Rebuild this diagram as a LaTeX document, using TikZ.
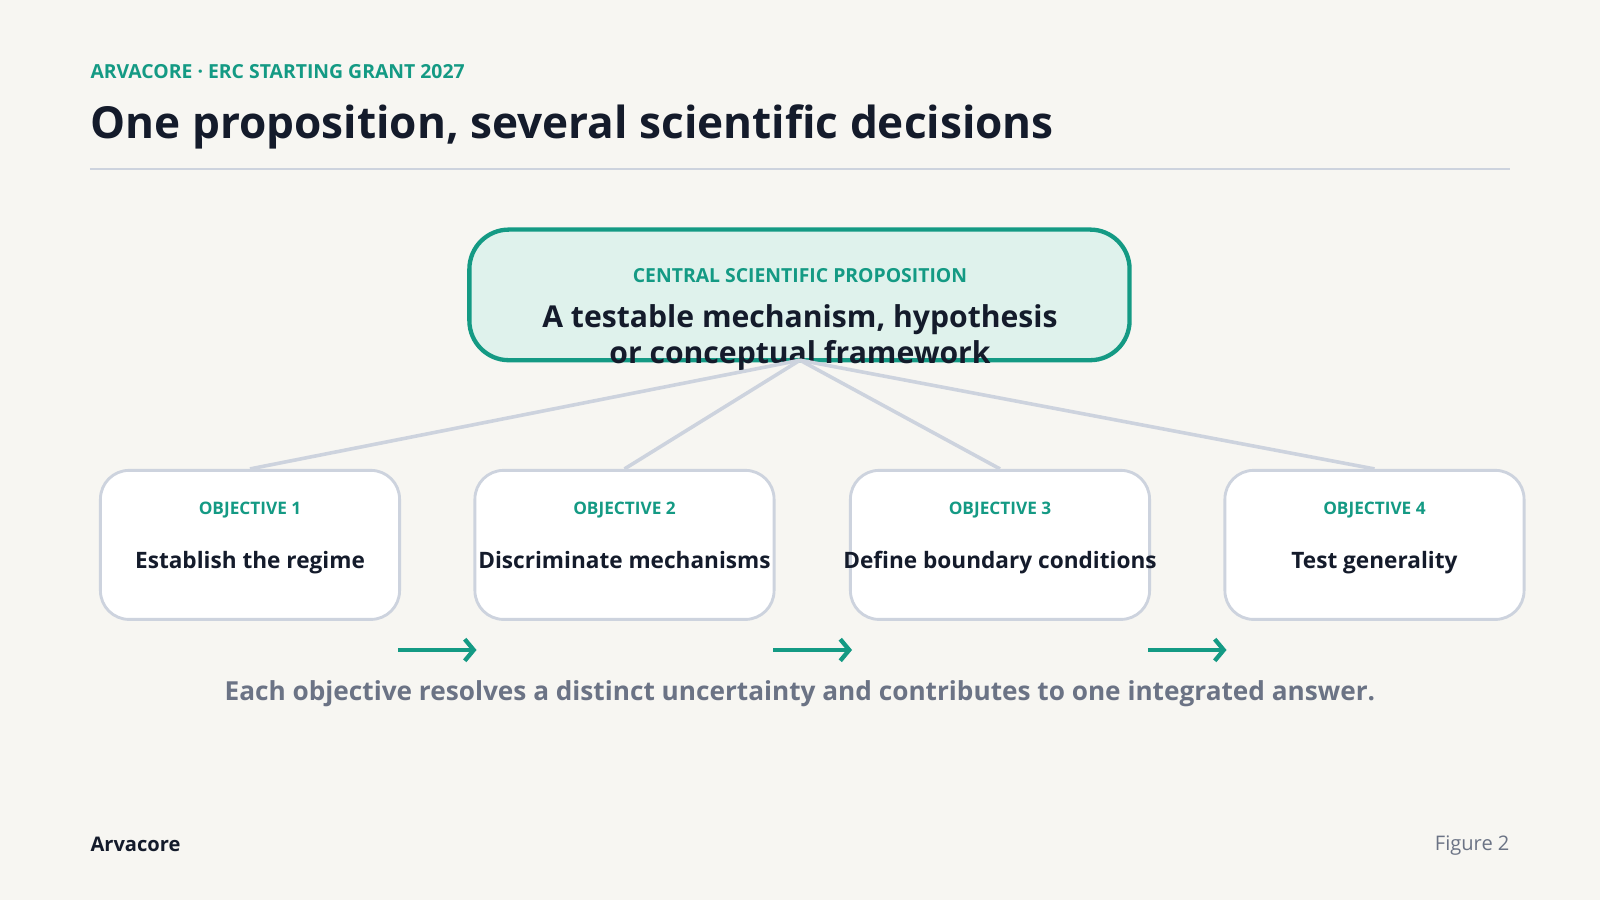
\documentclass[tikz,border=0pt]{standalone}
\usepackage{fontspec}
\setmainfont{Open Sans}
\usepackage{xcolor}
\usetikzlibrary{arrows.meta}
\definecolor{bgc}{HTML}{F7F6F2}
\definecolor{teal}{HTML}{149A84}
\definecolor{tealfill}{HTML}{DFF2EC}
\definecolor{ink}{HTML}{141B2B}
\definecolor{greyc}{HTML}{6B7385}
\definecolor{edgec}{HTML}{CDD3DE}
\tikzset{
  objbox/.style = {draw = edgec, line width = 0.8pt, fill = white, rounded corners = 8pt,
                   minimum width = 2.93cm, minimum height = 1.46cm},
  objtag/.style = {text = teal, font = \fontsize{4.8}{6}\selectfont\bfseries},
  objtext/.style = {text = ink, font = \fontsize{6.3}{8}\selectfont\bfseries,
                    text height = 1.6ex, text depth = 0.4ex},
  link/.style = {edgec, line width = 1pt},
  flowarrow/.style = {teal, line width = 1.2pt, -{Straight Barb[length=2.5pt,width=6pt]}}
}
\begin{document}
\begin{tikzpicture}[x = 0.01cm, y = -0.01cm]
\fill[bgc] (0, 0) rectangle (1568, 882);
\node[anchor = west, text = teal, font = \fontsize{5.4}{7}\selectfont\bfseries, inner sep = 0] (head) at (88, 70) {ARVACORE · ERC STARTING GRANT 2027};
\node[anchor = west, text = ink, font = \fontsize{12.3}{15}\selectfont\bfseries, inner sep = 0] (title) at (88, 124) {One proposition, several scientific decisions};
\draw[edgec, line width = 0.6pt] (88, 166) -- (1480, 166);
\draw[teal, line width = 1.2pt, fill = tealfill, rounded corners = 11pt] (460, 225) rectangle (1107, 353);
\node[text = teal, font = \fontsize{5.4}{7}\selectfont\bfseries] (ctag) at (784, 270) {CENTRAL SCIENTIFIC PROPOSITION};
\node[text = ink, font = \fontsize{8.4}{10}\selectfont\bfseries, align = center] (ctext) at (784, 331) {A testable mechanism, hypothesis\\or conceptual framework};
\coordinate (hub) at (784, 353);
\node[objbox] (o1) at (245, 534) {};
\node[objbox] (o2) at (612, 534) {};
\node[objbox] (o3) at (980, 534) {};
\node[objbox] (o4) at (1347, 534) {};
\foreach \i in {1, ..., 4} {
  \draw[link] (hub) -- (o\i.north);
  \node[objtag] at ([yshift = -0.40cm] o\i.north) {OBJECTIVE \i};
}
\node[objtext] at ([yshift = -0.12cm] o1.center) {Establish the regime};
\node[objtext] at ([yshift = -0.12cm] o2.center) {Discriminate mechanisms};
\node[objtext] at ([yshift = -0.12cm] o3.center) {Define boundary conditions};
\node[objtext] at ([yshift = -0.12cm] o4.center) {Test generality};
\coordinate (a1) at (390, 637); \coordinate (b1) at (467, 637);
\coordinate (a2) at (758, 637); \coordinate (b2) at (835, 637);
\coordinate (a3) at (1125, 637); \coordinate (b3) at (1202, 637);
\foreach \i in {1, 2, 3} \draw[flowarrow] (a\i) -- (b\i);
\node[text = greyc, font = \fontsize{7.3}{9}\selectfont\bfseries] (note) at (784, 680) {Each objective resolves a distinct uncertainty and contributes to one integrated answer.};
\node[anchor = west, text = ink, font = \fontsize{5.6}{7}\selectfont\bfseries, inner sep = 0] (brand) at (88, 828) {Arvacore};
\node[anchor = east, text = greyc, font = \fontsize{5.6}{7}\selectfont, inner sep = 0] (fig) at (1480, 829) {Figure 2};
\end{tikzpicture}
\end{document}
